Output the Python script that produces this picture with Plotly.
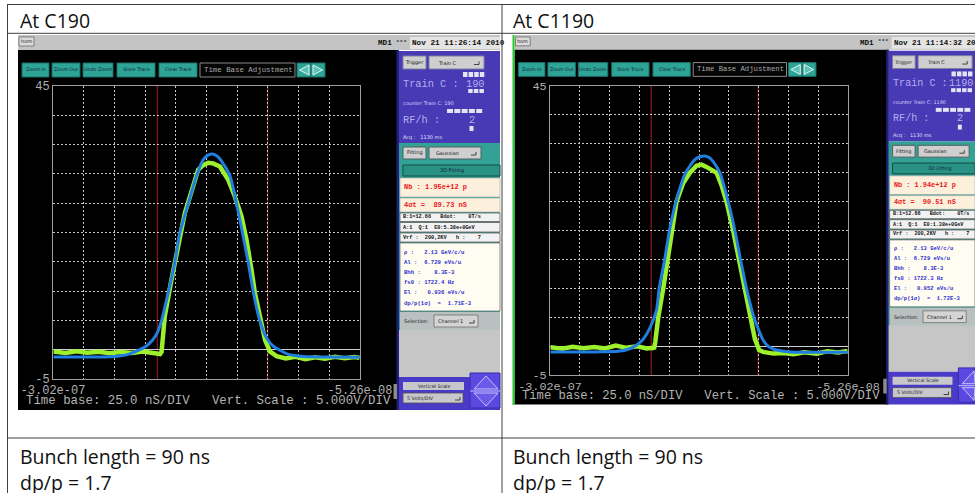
import plotly.graph_objects as go

W, H = 975, 493

# ---------------- data ----------------
headers = ["At C190", "At C1190"]
footer_lines = [["Bunch length = 90 ns", "dp/p = 1.7"],
                ["Bunch length = 90 ns", "dp/p = 1.7"]]

x_range_ns = [-302.0, -52.6]
y_range_v = [-5, 45]
x_edge_labels = ["-3.02e-07", "-5.26e-08"]
y_edge_labels = ["-5", "45"]
n_xdiv = 10
y_div_v = 5
cursor_ns = [-217.3, -127.7]
scale_caption = "Time base: 25.0 nS/DIV   Vert. Scale : 5.000V/DIV"

# C190: measured bunch signal (time in ns, amplitude in V)
c190_sig_t = [-301.5, -292.0, -283.0, -274.0, -265.0, -256.0, -247.0, -238.0, -229.0, -221.0,
              -215.0, -213.8, -213.3, -211.2, -205.8, -200.3, -194.9, -189.5, -184.1, -180.0,
              -176.0, -171.9, -166.4, -159.7, -154.2, -148.8, -144.8, -140.7, -138.0, -133.9,
              -129.8, -125.8, -120.4, -113.0, -105.0, -97.0, -89.0, -81.0, -73.0, -65.0,
              -57.0, -53.0]
c190_sig_v = [-0.3, -0.55, -0.25, -0.5, -0.35, -0.6, -0.4, -0.55, -0.3, -0.6,
              -0.75, -0.4, 1.1, 5.7, 11.9, 17.6, 23.3, 27.0, 30.7, 31.5,
              31.9, 31.8, 31.25, 29.0, 26.1, 22.7, 18.75, 13.6, 9.7, 5.7,
              1.7, -0.3, -1.1, -1.5, -1.2, -1.6, -1.3, -1.55, -1.2, -1.45,
              -1.25, -1.4]
# C190: gaussian fit
c190_fit_t = [-301.5, -265.0, -250.0, -241.0, -231.5, -224.0, -218.0, -213.9, -208.5, -203.0,
              -199.0, -192.2, -185.4, -180.0, -176.0, -172.4, -168.5, -165.1, -158.3, -152.9,
              -148.0, -143.4, -139.3, -133.9, -128.5, -123.1, -117.7, -112.0, -101.4, -80.0,
              -53.0]
c190_fit_v = [-1.25, -1.25, -1.1, -0.8, 0.0, 1.0, 2.6, 4.9, 9.6, 14.9,
              19.9, 24.9, 29.7, 32.4, 33.2, 33.4, 33.0, 32.2, 29.7, 24.9,
              19.9, 14.9, 9.9, 4.9, 2.0, 0.6, -0.1, -0.7, -1.1, -1.25,
              -1.3]

# C1190: measured bunch signal
c1190_sig_t = [-301.5, -292.0, -283.0, -274.0, -265.0, -256.0, -247.0, -238.0, -229.0, -221.0,
               -216.0, -215.0, -213.9, -211.4, -207.2, -203.6, -200.3, -196.1, -190.5, -184.9,
               -179.4, -175.2, -171.0, -166.8, -162.6, -158.4, -154.3, -148.7, -143.7, -138.9,
               -134.2, -131.5, -130.6, -127.0, -123.6, -115.0, -106.9, -98.0, -89.0, -79.0,
               -70.0, -61.0, -53.0]
c1190_sig_v = [-0.2, -0.45, -0.1, -0.35, -0.15, -0.4, 0.1, -0.3, -0.05, -0.4,
               -0.3, -0.5, 0.7, 5.0, 10.0, 15.0, 20.0, 25.0, 28.2, 30.0,
               31.2, 31.4, 31.0, 30.6, 30.0, 27.8, 25.0, 20.0, 15.0, 10.0,
               5.0, 2.5, 1.3, -0.7, -1.0, -1.3, -1.2, -1.4, -1.05, -1.3,
               -0.9, -1.1, -0.85]
# C1190: gaussian fit
c1190_fit_t = [-301.5, -262.0, -245.0, -236.0, -229.5, -224.0, -218.4, -212.8, -210.6, -206.0,
               -202.0, -196.5, -188.5, -181.0, -176.0, -172.4, -168.5, -165.4, -159.9, -152.9,
               -147.3, -142.6, -137.6, -131.4, -127.0, -123.6, -119.0, -115.3, -108.0, -101.3,
               -80.0, -53.0]
c1190_fit_v = [-1.0, -1.0, -0.9, -0.5, 0.2, 1.2, 3.1, 6.3, 10.0, 15.0,
               20.0, 25.0, 30.0, 32.2, 32.8, 32.9, 32.6, 31.9, 30.0, 25.0,
               20.0, 15.0, 10.0, 5.0, 2.6, 1.0, -0.1, -0.5, -0.85, -1.0,
               -1.05, -1.05]

screen_c190 = dict(
    date="Nov 21 11:26:14 2010", train="190", acq="Acq :   1130 ms",
    nb="Nb : 1.95e+12 p", sig="4σt =  89.73 nS",
    b="B:1=12.66   Bdot:    0T/s", a="A:1  Q:1  E0:5.38e+0GeV", vrf="Vrf :  200,2KV   h :    7",
    params=["ρ :   2.13 GeV/c/u", "Al :  6.729 eVs/u", "Bhh :    8.3E-3",
            "fs0 : 1722.4 Hz", "El :   0.936 eVs/u", "dp/p(1σ)  =  1.71E-3"])
screen_c1190 = dict(
    date="Nov 21 11:14:32 2010", train="1190", acq="Acq :   1130 ms",
    nb="Nb : 1.94e+12 p", sig="4σt =  90.51 nS",
    b="B:1=12.66   Bdot:    0T/s", a="A:1  Q:1  E0:1.38e+0GeV", vrf="Vrf :  200,2KV   h :    7",
    params=["ρ :   2.13 GeV/c/u", "Al :  6.729 eVs/u", "Bhh :    8.3E-3",
            "fs0 : 1722.3 Hz", "El :   0.952 eVs/u", "dp/p(1σ)  =  1.72E-3"])

# ---------------- style ----------------
MONO = "Liberation Mono"
SANS = "DejaVu Sans"
HEAD = "Open Sans"
GREEN = "#9cf02c"
BLUE = "#1f7ee0"
GRID = "#c8c8c8"
FRAME = "#a0a0a0"
TICK = "#b0b0b0"
TEAL_BTN = "#2ea496"
PURPLE = "#4839b4"
PURPLE2 = "#4a3ac8"
LAV = "#b4aef0"
TEAL_PANEL = "#33a195"
BTN_GRAY = "#cfcfcf"
CREAM = "#fcefdc"
RED_TXT = "#e8201a"
BLUE_TXT = "#2d2dd0"
DARK = "#10203a"

shapes, annos = [], []


def px(x):
    return x / W


def py(y):
    return 1 - y / H


def rect(x0, y0, x1, y1, fill, line=None, lw=0, layer="below"):
    shapes.append(dict(type="rect", xref="paper", yref="paper",
                       x0=px(x0), x1=px(x1), y0=py(y1), y1=py(y0),
                       fillcolor=fill, line=dict(color=line or fill, width=lw), layer=layer))


def seg(x0, y0, x1, y1, color, lw=1, layer="above"):
    shapes.append(dict(type="line", xref="paper", yref="paper",
                       x0=px(x0), x1=px(x1), y0=py(y0), y1=py(y1),
                       line=dict(color=color, width=lw), layer=layer))


def poly(pts, fill, line, lw=1, closed=True, layer="below"):
    d = "M " + " L ".join(f"{px(x):.5f},{py(y):.5f}" for x, y in pts) + (" Z" if closed else "")
    shapes.append(dict(type="path", xref="paper", yref="paper", path=d,
                       fillcolor=fill if closed else None, line=dict(color=line, width=lw), layer=layer))


def label(x, y, s, size, color, anchor="left", family=MONO, bold=False):
    annos.append(dict(xref="paper", yref="paper", x=px(x), y=py(y), text=s, showarrow=False,
                      xanchor=anchor, yanchor="middle", borderpad=0,
                      font=dict(size=size, color=color, family=family, weight=700 if bold else 400)))


def draw_screen(ox, sx, sy, clip, info, top_shift=0):
    def X(x):
        return min(ox + (x - 18) * sx, clip)

    def Y(y):
        return 35 + (y - 35) * sy

    def R(x0, y0, x1, y1, fill, line=None, lw=0):
        rect(X(x0), Y(y0), X(x1), Y(y1), fill, line, lw)

    def T(x, y, s, size, color, anchor="left", family=MONO, bold=False):
        label(X(x), Y(y), s, size * sx, color, anchor, family, bold)

    def caret(x, y):
        poly([(X(x - 3), Y(y + 2)), (X(x + 2), Y(y + 2)), (X(x + 2), Y(y - 1))], None, "#404040", 1, closed=False)

    # top gray bar
    R(18, 35, 500, 50, "#c4c4c4")
    R(19, 37, 34, 46, "#dcdcdc", "#6a6a6a", 0.8)
    T(26.5, 41.5, "hom", 5, "#202020", "center", SANS)
    T(377 + top_shift, 43, "MD1", 7.7, "#101010", bold=True)
    T(395 + top_shift, 42, "***", 6, "#303030", bold=True)
    R(410 + top_shift, 37, 500, 49, "#e4e4e4")
    T(411 + top_shift, 43, info["date"], 7.7, "#101010", bold=True)

    # black screen
    R(18, 50, 399, 410, "#000000")
    R(396.5, 50, 399, 410, "#20207a")
    R(393.5, 384, 397, 399, "#8c8c8c")

    # buttons
    for lab, x0, x1 in [("Zoom In", 22, 49), ("Zoom Out", 52, 80), ("Undo Zoom", 83, 113),
                        ("Store Trace", 117, 155), ("Clear Trace", 159, 197)]:
        R(x0, 63, x1, 77, TEAL_BTN, "#1b6f66", 1)
        T((x0 + x1) / 2, 70, lab, 4.8, DARK, "center", SANS)
    R(200, 63, 295, 77, "#050505", "#8a8a8a", 1)
    T(203, 70, "Time Base Adjustment", 7.4, "#a8a8a8")
    R(297, 63, 311, 77, TEAL_BTN, "#1b6f66", 1)
    R(311, 63, 325, 77, TEAL_BTN, "#1b6f66", 1)
    poly([(X(309), Y(65)), (X(299.5), Y(70)), (X(309), Y(75))], "#5cc2b6", "#e0f4f0", 1)
    poly([(X(313), Y(65)), (X(322.5), Y(70)), (X(313), Y(75))], "#5cc2b6", "#e0f4f0", 1)

    # purple top panel
    R(399, 51, 500, 143, PURPLE)
    R(403, 56, 426, 69, BTN_GRAY, "#8080a0", 1)
    T(414.5, 62.5, "Trigger", 5, "#202020", "center", SANS)
    R(429, 56, 484, 69, BTN_GRAY, "#8080a0", 1)
    T(447, 62.5, "Train C", 5, "#202020", "center", SANS)
    caret(477, 62.5)
    for i in range(4):
        R(463 + i * 5.6, 72, 467.5 + i * 5.6, 77, "#e4e4f4")
    T(402, 84, "Train C :", 10.3, LAV)
    T(486, 84, info["train"], 10.3, LAV, "right")
    nd = len(info["train"])
    for i in range(nd):
        R(485 - (nd - i) * 5.6, 89, 485 - (nd - i) * 5.6 + 4.5, 93, "#e4e4f4")
    T(402, 103, "counter Train C: " + info["train"], 5, "#d8d4ff", family=SANS)
    for i in range(5):
        R(447 + i * 7.3, 109, 453 + i * 7.3, 113, "#e4e4f4")
    T(402, 120, "RF/h :", 10.3, LAV)
    T(472, 120, "2", 10.3, LAV, "center")
    R(469.5, 126, 473.5, 131, "#e4e4f4")
    T(402, 137.5, info["acq"], 5, "#e0e0ff", family=SANS)

    # teal fitting panel
    R(399, 143, 500, 330, TEAL_PANEL)
    R(403, 147, 426, 159, BTN_GRAY, "#506060", 1)
    T(414.5, 153, "Fitting", 5, "#202020", "center", SANS)
    R(429, 147, 481, 159, BTN_GRAY, "#506060", 1)
    T(447, 153, "Gaussian", 5, "#202020", "center", SANS)
    caret(474, 153)
    R(403, 165, 500, 176, "#2a9284", "#134c45", 1)
    T(451.5, 170.5, "3D Fitting", 5, DARK, "center", SANS)
    R(400, 178, 500, 197, CREAM, "#9aa8a8", 0.6)
    T(403, 187, info["nb"], 7.0, RED_TXT, bold=True)
    R(400, 198, 500, 212, CREAM, "#9aa8a8", 0.6)
    T(403, 204.5, info["sig"], 7.0, RED_TXT, bold=True)
    R(400, 213, 500, 221.5, "#f2f2f2", "#606060", 0.8)
    T(402, 217, info["b"], 5.2, "#101010", bold=True)
    R(400, 222.5, 500, 232, "#f2f2f2", "#606060", 0.8)
    T(402, 227.5, info["a"], 5.2, "#101010", bold=True)
    R(400, 233, 500, 242, "#f2f2f2", "#606060", 0.8)
    T(402, 237.5, info["vrf"], 5.2, "#101010", bold=True)
    R(400, 243, 500, 311, "#fffdf2", "#707070", 0.8)
    for yy, s in zip([252, 262, 272, 282, 292, 303], info["params"]):
        T(403, yy, s, 5.6, BLUE_TXT, bold=True)
    R(400, 312, 500, 330, "#b9c1c0")
    T(403, 321, "Selection:", 5, "#202020", family=SANS)
    R(434, 315, 478, 327, "#d4d4d4", "#707070", 0.8)
    T(437, 321, "Channel 1", 5, "#202020", family=SANS)
    caret(472, 321)

    # gray and bottom purple
    R(399, 330, 500, 377, "#c6c6c6")
    R(399, 377, 500, 410, PURPLE2)
    R(403, 382, 464, 390, "#c8c8cc")
    T(433.5, 386, "Vertical Scale", 4.8, "#202020", "center", SANS)
    R(403, 393, 463, 403, "#c8c8cc", "#505050", 0.8)
    T(406, 398, "5 Volts/DIV", 4.8, "#202020", family=SANS)
    caret(458, 398)
    R(470, 373, 500, 408, "#5a49e0", "#3a2ab0", 1)
    poly([(X(486), Y(376)), (X(474), Y(389)), (X(498), Y(389))], "#6a5ae8", "#c8c0ff", 1)
    poly([(X(474), Y(393)), (X(498), Y(393)), (X(486), Y(406))], "#6a5ae8", "#c8c0ff", 1)
    seg(X(470), Y(391), X(500), Y(391), "#c8c0ff", 1, layer="below")

    # scale caption
    T(25, 401, scale_caption, 12.4, "#b4b4b4")


# left screenshot (C190) and right screenshot (C1190)
draw_screen(18, 1.0, 1.0, 500, screen_c190)
draw_screen(514.5, 0.982, 0.985, 975, screen_c1190, top_shift=-8)
rect(512.5, 35, 514.5, 405, "#22cc22")

# table lines
TL = "#404040"
seg(7, 4.5, 975, 4.5, TL)
seg(7, 33.3, 975, 33.3, TL)
seg(7, 438, 975, 438, TL)
seg(7.5, 4.5, 7.5, 493, TL)
seg(502, 4.5, 502, 493, TL)

# header/footer texts
for i, x0 in enumerate([19, 512]):
    label(x0, 20.5, headers[i], 19.5, "#111111", family=HEAD)
    label(x0, 456, footer_lines[i][0], 19.5, "#111111", family=HEAD)
    label(x0, 482, footer_lines[i][1], 19.5, "#111111", family=HEAD)

# ---------------- figure ----------------
fig = go.Figure()
panels = [
    (c190_sig_t, c190_sig_v, c190_fit_t, c190_fit_v, "x", "y"),
    (c1190_sig_t, c1190_sig_v, c1190_fit_t, c1190_fit_v, "x2", "y2"),
]
for st, sv, ft, fv, xa, ya in panels:
    fig.add_trace(go.Scatter(x=st, y=sv, mode="lines", line=dict(color=GREEN, width=4.5),
                             xaxis=xa, yaxis=ya, hoverinfo="skip"))
    fig.add_trace(go.Scatter(x=ft, y=fv, mode="lines", line=dict(color=BLUE, width=3, shape="spline", smoothing=0.6),
                             xaxis=xa, yaxis=ya, hoverinfo="skip"))
    for c in cursor_ns:
        shapes.append(dict(type="line", xref=xa, yref=ya + " domain", x0=c, x1=c, y0=0, y1=1,
                           line=dict(color="#8a1c1c", width=1.2), layer="below"))


def axis_pair(xdom, ydom, suffix, fsize):
    xt = [x_range_ns[0] + i * (x_range_ns[1] - x_range_ns[0]) / n_xdiv for i in range(n_xdiv + 1)]
    xl = [x_edge_labels[0]] + [""] * (n_xdiv - 1) + [x_edge_labels[1]]
    yt = list(range(y_range_v[0], y_range_v[1] + 1, y_div_v))
    yl = [y_edge_labels[0]] + [""] * (len(yt) - 2) + [y_edge_labels[1]]
    common = dict(showgrid=True, gridcolor=GRID, griddash="2px,2px", gridwidth=1, showline=True,
                  linecolor=FRAME, linewidth=1, mirror=True, ticks="", fixedrange=True,
                  automargin=False,
                  tickfont=dict(family=MONO, size=fsize, color=TICK), tickmode="array")
    xa = dict(domain=[px(xdom[0]), px(xdom[1])], range=x_range_ns, tickvals=xt, ticktext=xl,
              zeroline=False, anchor="y" + suffix, **common)
    ya = dict(domain=[py(ydom[1]), py(ydom[0])], range=y_range_v, tickvals=yt, ticktext=yl,
              zeroline=True, zerolinecolor="#d0d0d0", zerolinewidth=1, anchor="x" + suffix, **common)
    return xa, ya


xa1, ya1 = axis_pair((53, 360), (86, 379), "", 12)
xa2, ya2 = axis_pair((550, 848), (86, 375), "2", 11.8)

fig.update_layout(
    width=W, height=H, margin=dict(l=0, r=0, t=0, b=0, autoexpand=False),
    paper_bgcolor="white", plot_bgcolor="rgba(0,0,0,0)", showlegend=False,
    xaxis=xa1, yaxis=ya1, xaxis2=xa2, yaxis2=ya2,
    shapes=shapes, annotations=annos,
)
fig.write_html("out.html", config={"displayModeBar": False},
               post_script="document.body.style.margin='0px';document.body.style.overflow='hidden';")
